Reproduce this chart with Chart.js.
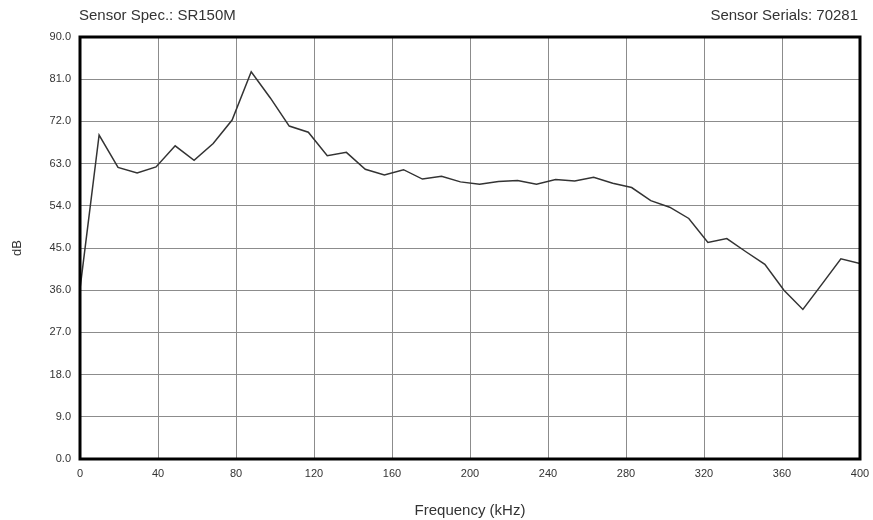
<!DOCTYPE html>
<html>
<head>
<meta charset="utf-8">
<script src="https://cdn.jsdelivr.net/npm/chart.js@4"></script>
<style>
  html, body { margin: 0; padding: 0; background: #fff; }
  #wrap { width: 873px; height: 520px; }
</style>
</head>
<body>
<div id="wrap"><canvas id="sensorChart" width="873" height="520"></canvas></div>
<script>
// frequency (kHz) of each sample
const freqs = [0, 9.8, 19.5, 29.3, 39.0, 48.8, 58.5, 68.3, 78.0, 87.8,
  97.6, 107.3, 117.1, 126.8, 136.6, 146.3, 156.1, 165.9, 175.6, 185.4,
  195.1, 204.9, 214.6, 224.4, 234.1, 243.9, 253.7, 263.4, 273.2, 282.9,
  292.7, 302.4, 312.2, 322.0, 331.7, 341.5, 351.2, 361.0, 370.7, 380.5,
  390.2, 400];
// response in dB
const dbValues = [36.3, 69.1, 62.2, 61.0, 62.3, 66.8, 63.7, 67.3, 72.3, 82.6,
  77.0, 71.0, 69.7, 64.7, 65.4, 61.8, 60.6, 61.7, 59.7, 60.3,
  59.1, 58.6, 59.2, 59.4, 58.6, 59.6, 59.3, 60.1, 58.8, 57.9,
  55.1, 53.7, 51.3, 46.2, 47.0, 44.2, 41.5, 36.0, 31.9, 37.3,
  42.7, 41.7];

const sensorSpec = 'Sensor Spec.: SR150M';
const sensorSerials = 'Sensor Serials: 70281';

const FONT = '"Liberation Sans", Arial, sans-serif';
const TEXT_COLOR = '#333';

// thick black frame round the plot + the two header labels
const framePlugin = {
  id: 'frame',
  afterDraw(chart) {
    const { ctx, chartArea: a } = chart;
    ctx.save();
    ctx.strokeStyle = '#000';
    ctx.lineWidth = 3;
    ctx.strokeRect(a.left, a.top, a.right - a.left, a.bottom - a.top);

    ctx.fillStyle = TEXT_COLOR;
    ctx.font = '15px ' + FONT;
    ctx.textBaseline = 'alphabetic';
    ctx.textAlign = 'left';
    ctx.fillText(sensorSpec, a.left - 1, 20);
    ctx.textAlign = 'right';
    ctx.fillText(sensorSerials, a.right - 2, 20);
    ctx.restore();
  }
};

const points = freqs.map((f, i) => ({ x: f, y: dbValues[i] }));

const ctx = document.querySelector('#sensorChart').getContext('2d');
new Chart(ctx, {
  type: 'line',
  data: {
    datasets: [{
      data: points,
      borderColor: '#333',
      borderWidth: 1.5,
      pointRadius: 0,
      tension: 0,
      fill: false
    }]
  },
  options: {
    responsive: false,
    animation: false,
    layout: { padding: { top: 37, right: 13, bottom: 0, left: 0 } },
    plugins: {
      legend: { display: false },
      tooltip: { enabled: false }
    },
    scales: {
      x: {
        type: 'linear',
        min: 0,
        max: 400,
        ticks: {
          stepSize: 40,
          padding: 8,
          color: TEXT_COLOR,
          font: { family: FONT, size: 11 }
        },
        grid: { color: '#8c8c8c', lineWidth: 1, drawTicks: false },
        border: { display: false },
        title: {
          display: true,
          text: 'Frequency (kHz)',
          color: TEXT_COLOR,
          font: { family: FONT, size: 15 },
          padding: { top: 14, bottom: 0 }
        },
        afterFit(scale) {
          scale.height = 61;
          // let the "400" label hang into the right padding
          scale.paddingRight = 0;
        }
      },
      y: {
        min: 0,
        max: 90,
        ticks: {
          stepSize: 9,
          padding: 9,
          color: TEXT_COLOR,
          font: { family: FONT, size: 11 },
          callback: v => v.toFixed(1)
        },
        grid: { color: '#8c8c8c', lineWidth: 1, drawTicks: false },
        border: { display: false },
        title: {
          display: true,
          text: 'dB',
          color: TEXT_COLOR,
          font: { family: FONT, size: 13 },
          padding: { top: 10, bottom: 0 }
        },
        afterFit(scale) { scale.width = 80; }
      }
    }
  },
  plugins: [framePlugin]
});
</script>
</body>
</html>
